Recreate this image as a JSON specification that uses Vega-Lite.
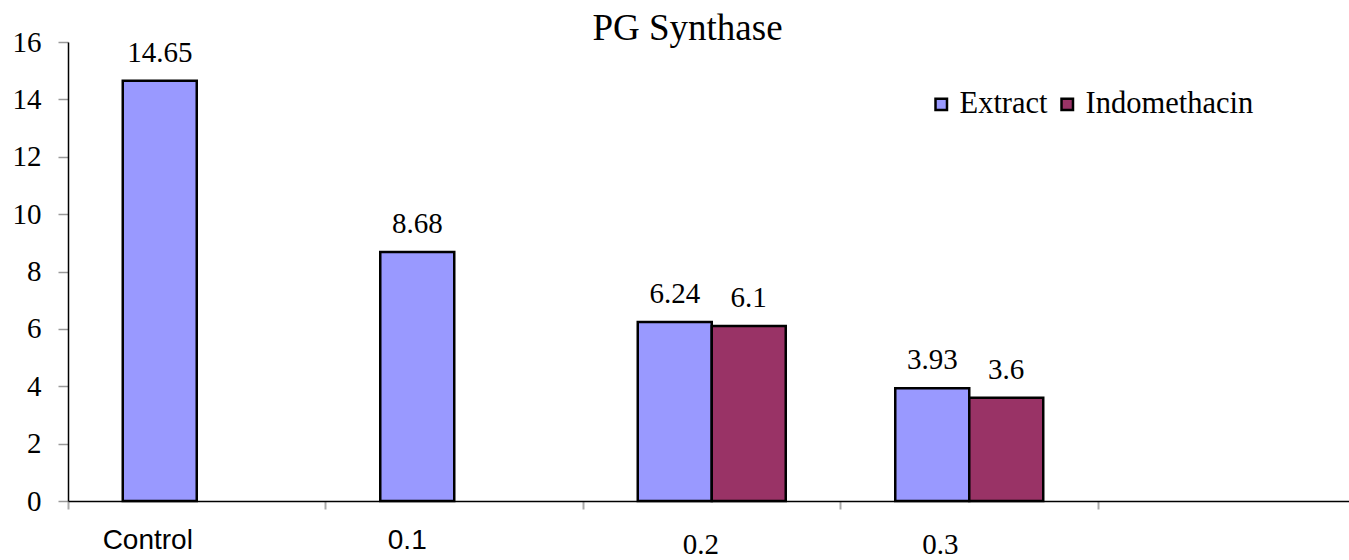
{
  "$schema": "https://vega.github.io/schema/vega-lite/v6.json",
  "width": 1281,
  "height": 459,
  "autosize": {"type": "none"},
  "padding": {"left": 68, "top": 42, "right": 0, "bottom": 59},
  "background": "white",
  "title": {"text": "PG Synthase", "font": "Liberation Serif", "fontSize": 37, "fontWeight": "normal", "color": "black", "anchor": "middle", "dx": -21, "dy": 24},
  "data": {"values": [
    {"dose": "Control", "series": "Extract", "value": 14.65},
    {"dose": "0.1", "series": "Extract", "value": 8.68},
    {"dose": "0.2", "series": "Extract", "value": 6.24},
    {"dose": "0.2", "series": "Indomethacin", "value": 6.1},
    {"dose": "0.3", "series": "Extract", "value": 3.93},
    {"dose": "0.3", "series": "Indomethacin", "value": 3.6}
  ]},
  "encoding": {
    "x": {
      "field": "dose", "type": "nominal", "sort": null,
      "scale": {"domain": ["Control", "0.1", "0.2", "0.3", " "], "range": [0, 1287.5], "paddingInner": 0, "paddingOuter": 0},
      "axis": {
        "title": null, "bandPosition": 0, "labelAngle": 0,
        "domainColor": "black", "domainWidth": 1.5,
        "tickColor": "#aaaaaa", "tickWidth": 2, "tickSize": 8,
        "labelFont": {"condition": {"test": "datum.value === '0.2' || datum.value === '0.3'", "value": "Liberation Serif"}, "value": "Liberation Sans"},
        "labelFontSize": {"condition": {"test": "datum.value === '0.2' || datum.value === '0.3'", "value": 29}, "value": 28},
        "labelColor": "black", "labelBaseline": "alphabetic", "labelPadding": 39,
        "labelOverlap": false, "labelFlush": false,
        "encoding": {"labels": {
          "dx": {"condition": [
            {"test": "datum.value === 'Control'", "value": -49},
            {"test": "datum.value === '0.1'", "value": -47},
            {"test": "datum.value === '0.2'", "value": -11}
          ], "value": -29},
          "dy": {"condition": {"test": "datum.value === '0.2' || datum.value === '0.3'", "value": 5}, "value": 0}
        }}
      }
    },
    "xOffset": {"field": "series", "type": "nominal", "scale": {"domain": ["Extract", "Indomethacin"], "paddingInner": 0, "paddingOuter": 0.74}},
    "y": {
      "field": "value", "type": "quantitative",
      "scale": {"domain": [0, 16], "nice": false},
      "axis": {
        "title": null, "values": [0, 2, 4, 6, 8, 10, 12, 14, 16], "grid": false,
        "domainColor": "black", "domainWidth": 1.5,
        "tickColor": "#999999", "tickWidth": 1.5, "tickSize": 10,
        "labelFont": "Liberation Serif", "labelFontSize": 29, "labelColor": "black", "labelPadding": 17,
        "labelOverlap": false, "labelFlush": false
      }
    }
  },
  "layer": [
    {
      "mark": {"type": "bar", "stroke": "black", "strokeWidth": 2.5, "opacity": 1},
      "encoding": {
        "color": {
          "field": "series", "type": "nominal",
          "scale": {"domain": ["Extract", "Indomethacin"], "range": ["#9999FF", "#993366"]},
          "legend": {
            "title": null, "orient": "none", "legendX": 858, "legendY": 47, "direction": "horizontal",
            "symbolType": "square", "symbolSize": 132, "symbolStrokeColor": "black", "symbolStrokeWidth": 2.5, "symbolOpacity": 1,
            "labelFont": "Liberation Serif", "labelFontSize": 30.5, "labelColor": "black", "labelOffset": 3, "labelLimit": 0,
            "columnPadding": 4, "padding": 0
          }
        }
      }
    },
    {
      "mark": {"type": "text", "font": "Liberation Serif", "fontSize": 29, "baseline": "alphabetic", "dy": -19, "color": "black"},
      "encoding": {"text": {"field": "value", "type": "nominal"}}
    }
  ],
  "config": {"view": {"stroke": null}}
}
